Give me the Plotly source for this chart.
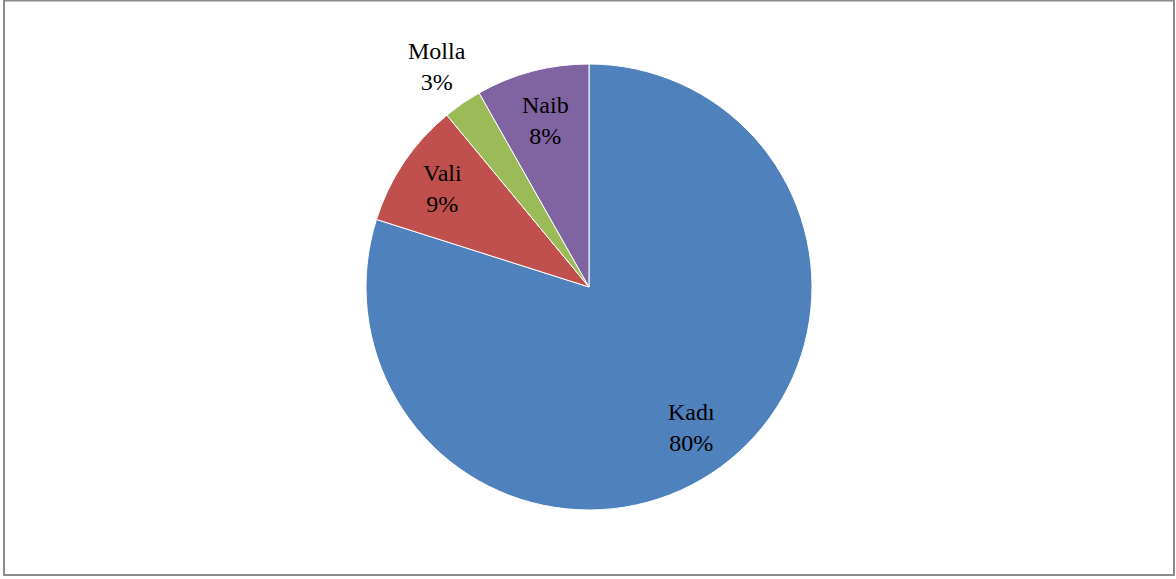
import math
import plotly.graph_objects as go

# slice labels and shares
labels = ['Kadı', 'Vali', 'Molla', 'Naib']
values = [79.9, 9.1, 2.8, 8.2]
colors = ['#4F81BD', '#C0504D', '#9BBB59', '#8064A2']
# how far out (in pie radii) each label sits along its slice bisector
label_radius = [0.78, 0.79, 1.2, 0.77]

W, H = 1176, 579
dom_x = [366 / W, 812 / W]
dom_y = [1 - 510 / H, 1 - 64 / H]

fig = go.Figure()

fig.add_trace(go.Pie(
    labels=labels,
    values=values,
    sort=False,
    direction='clockwise',
    rotation=0,
    marker=dict(colors=colors, line=dict(color='white', width=1)),
    textinfo='none',
    domain=dict(x=dom_x, y=dom_y),
    showlegend=False,
    hoverinfo='label+percent'
))

# data labels placed like Excel: along each slice bisector
cx = (dom_x[0] + dom_x[1]) / 2 * W
cy = (1 - (dom_y[0] + dom_y[1]) / 2) * H
r = (dom_x[1] - dom_x[0]) * W / 2
total = sum(values)
cum = 0
for lab, v, f in zip(labels, values, label_radius):
    mid = (cum + v / 2) / total * 2 * math.pi
    cum += v
    px = cx + f * r * math.sin(mid)
    py = cy - f * r * math.cos(mid)
    fig.add_annotation(
        x=px / W, y=1 - py / H, xref='paper', yref='paper',
        text=f'{lab}<br>{round(v / total * 100)}%',
        showarrow=False, xanchor='center', yanchor='middle',
        font=dict(family='Liberation Serif', size=24, color='black')
    )

# outer frame of the chart area
fig.add_shape(type='rect', xref='paper', yref='paper',
              x0=4 / W, x1=1174 / W, y0=1 - 575 / H, y1=1 - 0.5 / H,
              line=dict(color='#8c8c8c', width=2))

fig.update_layout(
    width=W,
    height=H,
    margin=dict(l=0, r=0, t=0, b=0),
    paper_bgcolor='white',
    plot_bgcolor='white',
    font=dict(family='Liberation Serif')
)

fig.write_html("out.html", config={'displayModeBar': False},
               post_script="document.body.style.margin='0';")
